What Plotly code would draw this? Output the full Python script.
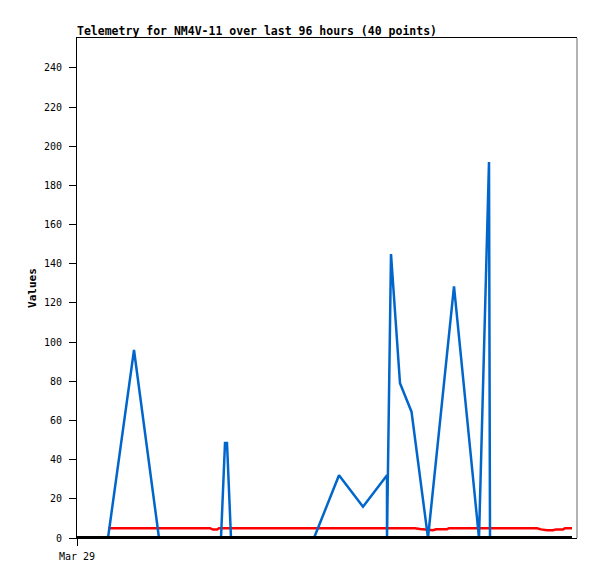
"""Telemetry chart for NM4V-11: blue value series, red level series, black baseline."""

from datetime import datetime, timedelta
import plotly.graph_objects as go

START = datetime(2024, 3, 29, 0, 0)

# hours after Mar 29 00:00 and values
blue_hours = [6.2, 11.4, 16.4, 28.8, 29.6, 30.0, 30.8, 47.4, 52.4, 57.2, 62.0, 62.0,
              62.8, 64.6, 66.9, 70.2, 75.4, 80.0, 80.4, 82.4, 82.6, 99.0]
blue_values = [0, 96, 0, 0, 48.5, 48.5, 0, 0, 32, 16, 32, 0,
               145, 79, 64.5, 0, 128.5, 8, 0, 192, 0, 0]

red_hours = [6.2, 26.6, 27.2, 28.0, 28.4, 67.6, 68.6, 70.2, 71.2, 71.8, 74.0, 74.4,
             92.0, 92.8, 94.0, 95.2, 95.8, 97.2, 97.6, 99.0]
red_values = [5, 5, 4.3, 4.3, 5, 5, 4.6, 4.0, 4.0, 4.5, 4.5, 5,
              5, 4.4, 4.0, 4.0, 4.4, 4.4, 5, 5]

base_hours = [0, 99.0]
base_values = [0, 0]

y_ticks = list(range(0, 241, 20))
x_tick_hours = [0]
x_tick_labels = ["Mar 29"]


def to_time(hours):
    return [START + timedelta(hours=h) for h in hours]


MONO = "DejaVu Sans Mono"
W, H = 589, 571  # page body adds an 8px offset

fig = go.Figure()
fig.add_trace(
    go.Scatter(
        x=to_time(red_hours),
        y=red_values,
        mode="lines",
        line=dict(color="#ff0000", width=2.5),
        hoverinfo="skip",
    )
)
fig.add_trace(
    go.Scatter(
        x=to_time(blue_hours),
        y=blue_values,
        mode="lines",
        line=dict(color="#0066cc", width=2.5),
        hoverinfo="skip",
    )
)
fig.add_trace(
    go.Scatter(
        x=to_time(base_hours),
        y=base_values,
        mode="lines",
        line=dict(color="#000000", width=4),
        hoverinfo="skip",
    )
)

# grey right-hand frame edge
fig.add_shape(
    type="line", xref="paper", yref="paper", x0=1, x1=1, y0=0, y1=1,
    line=dict(color="#666666", width=1),
)

fig.update_layout(
    width=W,
    height=H,
    margin=dict(l=69, r=20, t=30, b=41),
    paper_bgcolor="white",
    plot_bgcolor="white",
    showlegend=False,
    title=dict(
        text="<b>Telemetry for NM4V-11 over last 96 hours (40 points)</b>",
        x=69 / W,
        xanchor="left",
        y=1 - 23 / H,
        yanchor="middle",
        font=dict(family=MONO, size=11.5, color="black"),
    ),
    font=dict(family=MONO, size=10, color="black"),
)

fig.update_xaxes(
    range=to_time([0, 100]),
    tickvals=to_time(x_tick_hours),
    ticktext=x_tick_labels,
    ticks="outside",
    ticklen=7,
    tickcolor="black",
    ticklabelstandoff=2,
    showgrid=False,
    zeroline=False,
    showline=True,
    linecolor="black",
    linewidth=1,
    mirror=True,
    tickfont=dict(family=MONO, size=10),
)
fig.update_yaxes(
    range=[0, 255.3],
    tickvals=y_ticks,
    ticks="outside",
    ticklen=7,
    tickcolor="black",
    ticklabelstandoff=5,
    showgrid=False,
    zeroline=False,
    showline=True,
    linecolor="black",
    linewidth=1,
    tickfont=dict(family=MONO, size=10),
    title=dict(text="<b>Values</b>", font=dict(family=MONO, size=11), standoff=5),
)

fig.write_html("out.html")
